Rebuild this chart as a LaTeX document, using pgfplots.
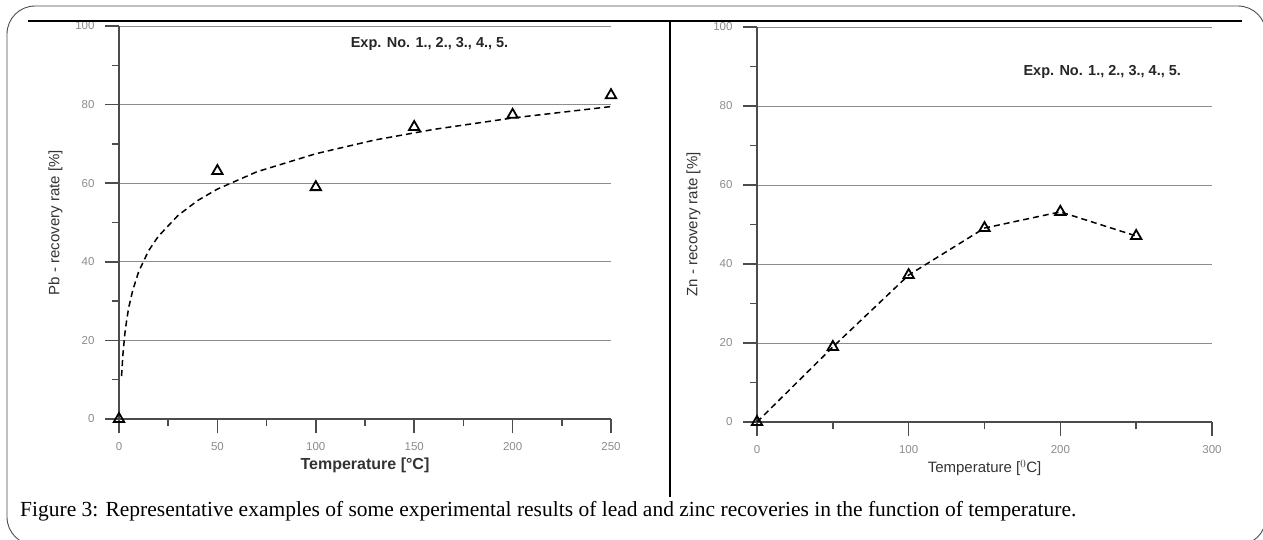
\documentclass[border=0pt]{standalone}
\usepackage{fontspec}
\setmainfont{Liberation Sans}
\newfontfamily\capfont{Liberation Serif}
\usepackage{pgfplots}
\pgfplotsset{compat=1.18}

\definecolor{axisgray}{gray}{0.3}
\definecolor{gridgray}{gray}{0.55}
\definecolor{ticktext}{gray}{0.55}

\tikzset{exptext/.style={anchor=west, font=\bfseries\fontsize{14.5}{15}\selectfont, black!85}}

\pgfplotsset{
  recov/.style={
    scale only axis, anchor=south west,
    ymin=0, ymax=100,
    axis x line=bottom, axis y line=left,
    axis line style={-, color=axisgray, line width=1.5pt},
    ytick={0,20,...,100}, minor ytick={10,30,...,90},
    tick align=outside,
    major tick length=14pt, minor tick length=7pt,
    every tick/.style={color=axisgray, line width=1.5pt},
    ymajorgrids, major grid style={gridgray, line width=0.9pt},
    tick label style={font=\fontsize{11.5}{12}\selectfont, color=ticktext},
    xticklabel shift=6pt, yticklabel shift=7pt,
    /pgf/number format/assume math mode=true,
    label style={font=\fontsize{15}{16}\selectfont, color=black!80},
    ylabel shift=6pt,
    clip=false,
  },
  tri/.style={mark=triangle, mark size=6pt, mark options={solid, line width=1.8pt, black}},
}

\begin{document}
\begin{tikzpicture}
\useasboundingbox (0pt,0pt) rectangle (1263pt,-539pt);

% lead
\begin{axis}[recov, at={(119pt,-419pt)}, width=492pt, height=393pt,
    xmin=0, xmax=250, xtick={0,50,...,250}, minor xtick={25,75,...,225},
    xlabel={\bfseries\fontsize{16}{17}\selectfont Temperature [°C]},
    ylabel={Pb - recovery rate [\%]}]
\addplot[black, line width=1.5pt, dash pattern=on 6pt off 4pt] coordinates {
 (1.3,10.9) (2,16.5) (3,21.8) (4,25.5) (5,28.5) (7,32.8) (10,37.5) (15,42.8)
 (20,46.5) (30,51.8) (40,55.6) (50,58.5) (70,62.9) (100,67.5) (130,71.0)
 (160,73.7) (200,76.6) (250,79.5)};
\addplot[only marks, tri] coordinates {
 (0,0) (50,63.1) (100,59.0) (150,74.3) (200,77.4) (250,82.4)};
\node[exptext] at (axis cs:116,95.4) {Exp. No. 1., 2., 3., 4., 5.};
\end{axis}

% zinc
\begin{axis}[recov, at={(757pt,-422pt)}, width=455pt, height=395pt,
    xmin=0, xmax=300, xtick={0,100,200,300}, minor xtick={50,150,250},
    xlabel={Temperature [$^{0}$C]},
    ylabel={Zn - recovery rate [\%]}]
\addplot[black, line width=1.5pt, dash pattern=on 6pt off 4pt, tri] coordinates {
 (0,0) (50,19) (100,37.2) (150,49.1) (200,53.2) (250,47.1)};
\node[exptext] at (axis cs:173.4,88.6) {Exp. No. 1., 2., 3., 4., 5.};
\end{axis}

\begin{scope}[x=1pt, y=-1pt]
\draw[black!70, line width=0.9pt, rounded corners=28pt] (7,6) rectangle (1266,545);
\draw[black, line width=1.3pt] (28,21) -- (1242,21);
\draw[black, line width=1.3pt] (670,21) -- (670,497);
\node[anchor=base west, inner sep=0pt, font=\capfont\fontsize{21.5}{22}\selectfont]
  at (20,516) {Figure 3: Representative examples of some experimental results of lead and zinc recoveries in the function of temperature.};
\end{scope}
\end{tikzpicture}
\end{document}
